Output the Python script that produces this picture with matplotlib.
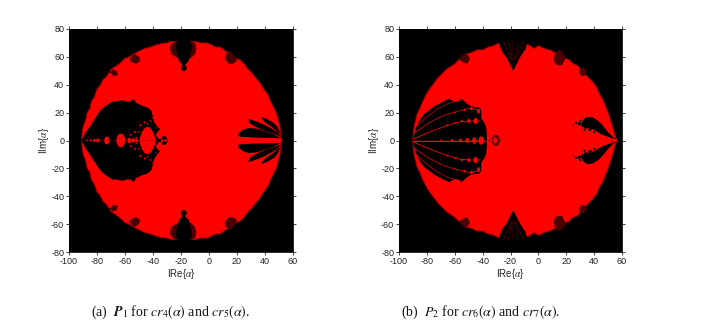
#!/usr/bin/env python3
"""Stability regions P1 and P2, two black/red panels with captions."""

import numpy as np
import matplotlib
matplotlib.use('Agg')
import matplotlib.pyplot as plt

plt.rcParams.update({
    'font.family': 'Liberation Sans',
    'mathtext.fontset': 'stix',
    'axes.unicode_minus': False,
})

X_TICKS = [-100, -80, -60, -40, -20, 0, 20, 40, 60]
Y_TICKS = [-80, -60, -40, -20, 0, 20, 40, 60, 80]
RED = '#ff0000'
DARK = '#4a0000'

# upper half of the red regions (lower half is the mirror image)
P1_RE = [-91, -90.5, -89.5, -88, -87, -85, -84, -82, -80, -78, -75.5, -74, -71, -70, -67, -64,
         -60, -58, -54, -50, -46, -42, -38, -34, -30, -27, -24, -14, -10, -6, -2, 1, 5, 8,
         12, 15, 19, 22, 25, 28, 31, 34, 36, 39, 42, 44, 46, 48, 50, 51, 52]
P1_IM = [0, 7, 11, 15, 20, 23, 28, 31, 37, 39, 44, 45, 49, 51, 53, 55,
         59, 59.5, 62, 64, 66, 67, 68.5, 69.5, 70, 71, 71, 71, 71, 70, 70, 69, 67, 67,
         64, 63, 59, 58, 55, 51, 48, 44, 42, 37, 33, 28, 24, 20, 13, 8, 0]
P2_RE = [-90, -89.5, -88.5, -87, -85, -83, -80, -78, -75, -72, -70, -66, -63, -60, -56, -52,
         -48, -44, -40, -36, -32, -28, -22, -14, -10, -6, -3, 0, 4, 8, 12, 15, 19, 22, 25,
         28, 31, 34, 37, 39, 42, 44, 46, 48, 50, 52, 54, 55.5, 57]
P2_IM = [0, 8, 13, 19, 23, 28, 34, 37, 41, 45, 47, 51, 53, 55, 59, 62,
         63, 65, 65, 67, 68, 70, 70, 70, 70, 68, 66, 68, 66, 65, 63, 63, 59, 58, 55,
         54, 50, 47, 44, 42, 38, 33, 30, 25, 20, 14, 7, 2, 0]

# P1: big black lobe on the left
LOBE_RE = [-91, -88, -85, -82, -78, -75, -72, -69, -66, -62, -59, -56, -54, -52, -50, -48,
           -45, -43, -41, -40, -39, -37, -35, -37, -38, -36, -38, -40, -50, -60, -91]
LOBE_IM = [0.5, 6, 10, 15, 21, 24, 26, 28, 28, 29, 28, 28, 30, 27, 26, 25,
           24, 23, 21, 17, 13, 10, 8, 6, 4, 1, 0.5, 0, 0, 0, 0]
# P1: red bulb inside the lobe and the bubbles along the axis
BULB_RE = [-50, -49, -48, -46, -44, -42, -40.5, -39.5, -38.5, -38.5]
BULB_IM = [0, 3, 6, 9, 10, 9, 7, 5, 2.5, 0]
BUBBLE_RE = [-87, -84.5, -82, -79.5, -73, -63, -57, -54, -51.5]
BUBBLE_R = [0.4, 0.5, 0.6, 0.9, 1.7, 3.0, 1.2, 1.0, 0.8]
# P1: red ticks scattered in the lobe near the bulb
FLECK_RE = [-56, -53, -52, -50, -49, -46, -44, -42, -40, -38]
FLECK_IM = [4, 6, 2, 6, 11, 13, 12, 14, 16, 9]
FLECK_R = [0.6, 0.7, 0.6, 0.6, 0.7, 0.7, 0.6, 0.6, 0.6, 0.5]
# P1: scrap of black right of the lobe
SCRAP_RE = [-38, -36, -34, -33, -31, -29.5, -31, -33, -34, -36, -38]
SCRAP_IM = [0, 1, 1, 3, 3, 0.5, -3, -3, -1, -1, 0]
SCRAP_RED_RE = [-33.5, -31]
SCRAP_RED_R = [0.6, 0.7]
# P1: blades at the right edge
BLADE_A_RE = [21, 24, 28, 34, 40, 46, 52, 46, 40, 34, 28, 24, 21]
BLADE_A_IM = [5, 7.5, 9, 8.5, 6.5, 4.5, 1.5, 1.8, 1.9, 2.1, 2.4, 2.6, 3]
BLADE_B_RE = [28, 33, 38, 43, 48, 52, 47, 42, 37, 32, 29]
BLADE_B_IM = [15.5, 14, 12, 9.5, 6.5, 2.5, 4.5, 6, 8, 10.5, 12.5]
BLADE_C_RE = [37, 41, 44, 47, 49, 51.5, 48, 45, 42, 39]
BLADE_C_IM = [17, 15.5, 14, 12, 9.5, 4, 7, 9.5, 11.5, 14]
# P1: top notch at Re = -18, flare first and then the core
FLARE_A_RE = [-18, -24, -27, -28, -26, -22, -18, -14, -10, -9, -10, -13]
FLARE_A_IM = [58, 60, 62, 67, 70, 72, 72, 72, 70, 66, 62, 59]
NOTCH_A_RE = [-18, -18.8, -20, -21.5, -22, -23, -24, -22, -18, -14, -12, -13, -14, -14.5, -16, -17.2]
NOTCH_A_IM = [50, 54, 55.5, 57, 60, 63, 68, 72, 72, 72, 68, 63, 60, 57, 55.5, 54]
# P1: smaller dark patches near the rim
PATCH_A_RE = [[-57, -55, -52, -49, -50, -53, -55], [11, 14, 17, 20, 19, 15, 12], [-71, -68, -65, -66, -69]]
PATCH_A_IM = [[58, 56, 55, 57, 60, 62, 61], [59, 55, 55, 57, 60, 64, 62], [49, 46, 47, 50, 51]]

# P2: fan of black on the left
FAN_RE = [-90, -88, -85, -82, -78, -74, -70, -66, -64, -61, -58, -55, -52, -49, -46, -43,
          -41, -41, -39, -37.5, -37, -37, -90]
FAN_IM = [0.5, 9, 15, 19, 22, 25, 27, 29, 30, 28, 28, 30, 27, 25, 24, 24,
          22, 16, 13, 10, 5, 0, 0]
# P2: red rays crossing the fan, from the common point on the left
RAY1_RE = [-90, -70, -60, -52, -45, -38]
RAY1_IM = [0, 0, 0, 0, 0, 0]
RAY2_RE = [-90, -76, -66, -56, -49, -42]
RAY2_IM = [1, 7, 10.5, 13.5, 14, 14]
RAY3_RE = [-90, -78, -68, -58, -50, -43]
RAY3_IM = [5, 13, 18, 21, 23, 22]
RAY4_RE = [-89, -80, -72, -64, -55]
RAY4_IM = [9, 17, 23, 27, 29]
# P2: bubbles sitting on the rays
DOT_RE = [-70, -62, -56, -51, -46, -41, -66, -60, -55, -50, -45, -60, -53, -48, -43]
DOT_IM = [0, 0, 0, 0, 0, 0, 11, 12.5, 14, 14, 14, 20, 22, 23, 21]
DOT_R = [0.4, 0.6, 0.8, 1.1, 1.4, 1.8, 0.4, 0.5, 0.7, 1.0, 1.4, 0.4, 0.6, 0.9, 1.1]
# P2: ring just outside the fan
RING_RE = [-36, -33, -31, -29, -27, -29, -31, -33, -36]
RING_IM = [0, 2, 4, 3.5, 0, -3.5, -4, -2, 0]
RING_CORE_RE = [-34, -31]
RING_CORE_R = [0.8, 1.3]
# P2: lens at the right, tip on the axis
LENS_RE = [57, 54, 50, 46, 43, 39, 35, 32, 31, 33, 37, 41, 45, 49, 53]
LENS_IM = [0.8, 2, 6, 11, 14, 16.5, 17, 15, 12, 9, 9, 7, 4.5, 3, 1.5]
SPECK_RE = [25, 27, 29.5, 32, 34, 37, 40, 30, 33]
SPECK_IM = [11, 12.5, 12, 11, 9.5, 8, 6, 14, 7.5]
SPECK_R = [0.5, 0.9, 1.2, 1.4, 1.2, 1.2, 0.8, 0.8, 0.7]
# P2: top fan at Re = -18
NOTCH_B_RE = [-28.5, -27, -25, -23, -21, -19, -18, -17, -15, -13, -11, -9, -8]
NOTCH_B_IM = [71, 66, 62, 60, 56, 52, 50, 52, 56, 60, 63, 66, 71]
NOTCH_RAY_RE = [-25, -21.5, -18, -14.5, -11]
PATCH_B_RE = [[11, 12, 14, 17, 19.5, 18, 15, 12], [-57, -54, -51, -49, -51, -55], [29, 31, 34, 35, 33, 30]]
PATCH_B_IM = [[58, 55, 54, 54, 59, 63, 65, 63], [58, 56, 55, 59, 62, 61], [49, 46, 47, 50, 52, 52]]

CAPTION_A = r'(a)  $\boldsymbol{P}_1$ for $cr_4(\alpha)$ and $cr_5(\alpha)$.'
CAPTION_B = r'(b)  $P_2$ for $cr_6(\alpha)$ and $cr_7(\alpha)$.'


def fill_half(ax, re, im, color):
    """Fill a shape and its mirror image in the real axis."""
    ax.fill(re, im, color=color, lw=0)
    ax.fill(re, -np.array(im), color=color, lw=0)


def fill_region(ax, re, im):
    """Closed red region from the upper half of its outline."""
    re = np.array(re)
    im = np.array(im)
    ax.fill(np.r_[re, re[::-1]], np.r_[im, -im[::-1]], color=RED, lw=0.7, ec='#a00000')


def bubbles(ax, re, im, r, color, stretch=1.6):
    t = np.linspace(0, 2 * np.pi, 30)
    for x, y, rad in zip(re, im, r):
        fill_half(ax, x + rad * np.cos(t), y + rad * stretch * np.sin(t), color)


def setup_axes(ax):
    ax.set_facecolor('black')
    ax.set_xlim(-100, 60)
    ax.set_ylim(-80, 80)
    ax.set_xticks(X_TICKS)
    ax.set_yticks(Y_TICKS)
    ax.tick_params(direction='out', length=2, width=0.6, labelsize=6.5, pad=1.5,
                   top=True, right=True, color='#222222', labelcolor='#222222')
    ax.set_xlabel(r'IRe{$\alpha$}', fontsize=7, labelpad=0.5, color='#222222')
    ax.set_ylabel(r'IIm{$\alpha$}', fontsize=7, labelpad=0, color='#222222')
    for s in ax.spines.values():
        s.set_linewidth(0.6)


def panel_a(ax):
    fill_region(ax, P1_RE, P1_IM)
    fill_half(ax, LOBE_RE, LOBE_IM, 'black')
    fill_half(ax, BULB_RE, BULB_IM, RED)
    bubbles(ax, BUBBLE_RE, [0] * len(BUBBLE_RE), BUBBLE_R, RED)
    bubbles(ax, FLECK_RE, FLECK_IM, FLECK_R, RED, stretch=1)
    fill_half(ax, SCRAP_RE, SCRAP_IM, 'black')
    bubbles(ax, SCRAP_RED_RE, [0, 0], SCRAP_RED_R, RED)
    for re, im in [(BLADE_A_RE, BLADE_A_IM), (BLADE_B_RE, BLADE_B_IM), (BLADE_C_RE, BLADE_C_IM)]:
        fill_half(ax, re, im, 'black')
    fill_half(ax, FLARE_A_RE, FLARE_A_IM, DARK)
    fill_half(ax, NOTCH_A_RE, NOTCH_A_IM, 'black')
    bubbles(ax, [-18], [52], [2.1], 'black', stretch=1)
    for re, im in zip(PATCH_A_RE, PATCH_A_IM):
        fill_half(ax, re, im, DARK)
    setup_axes(ax)


def panel_b(ax):
    fill_region(ax, P2_RE, P2_IM)
    fill_half(ax, FAN_RE, FAN_IM, 'black')
    for re, im, lw in [(RAY1_RE, RAY1_IM, 0.6), (RAY2_RE, RAY2_IM, 0.6),
                       (RAY3_RE, RAY3_IM, 0.5), (RAY4_RE, RAY4_IM, 0.4)]:
        ax.plot(re, im, color=RED, lw=lw)
        ax.plot(re, -np.array(im), color=RED, lw=lw)
    bubbles(ax, DOT_RE, DOT_IM, DOT_R, RED)
    fill_half(ax, RING_RE, RING_IM, '#600000')
    bubbles(ax, RING_CORE_RE, [0, 0], RING_CORE_R, RED)
    fill_half(ax, LENS_RE, LENS_IM, 'black')
    bubbles(ax, SPECK_RE, SPECK_IM, SPECK_R, 'black', stretch=1)
    fill_half(ax, NOTCH_B_RE, NOTCH_B_IM, 'black')
    for x in NOTCH_RAY_RE:
        ax.plot([x, x * 0.25 - 13.5], [71, 58], color='#c00000', lw=0.25)
        ax.plot([x, x * 0.25 - 13.5], [-71, -58], color='#c00000', lw=0.25)
    for re, im in zip(PATCH_B_RE, PATCH_B_IM):
        fill_half(ax, re, im, DARK)
    setup_axes(ax)


fig = plt.figure(figsize=(7.08, 3.24), dpi=100)
W, H = 708, 324
ax_a = fig.add_axes([69 / W, 1 - 252 / H, 224 / W, 223 / H])
ax_b = fig.add_axes([399 / W, 1 - 252 / H, 223 / W, 223 / H])
panel_a(ax_a)
panel_b(ax_b)
for x, txt in [(170.5, CAPTION_A), (481, CAPTION_B)]:
    fig.text(x / W, 1 - 312.5 / H, txt, family='Liberation Serif', fontsize=10,
             ha='center', va='center', color='#111111')
fig.savefig('out.png', dpi=100)
